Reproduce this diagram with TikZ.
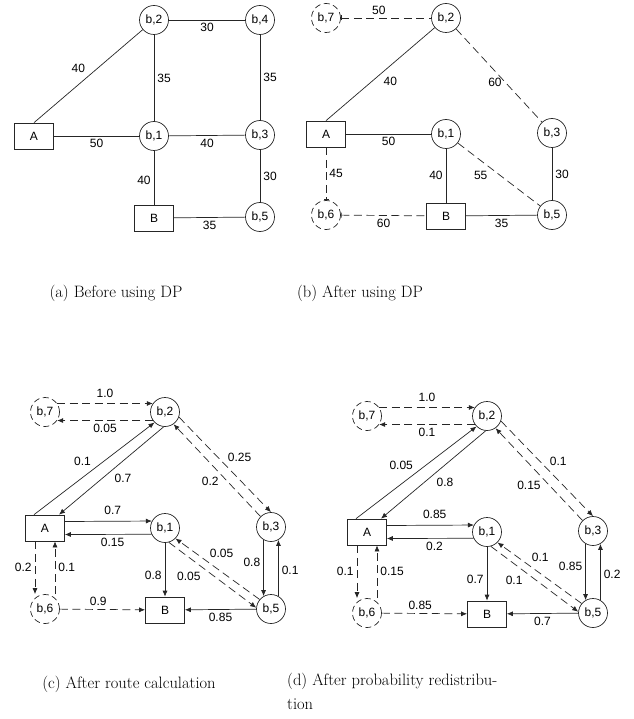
\documentclass[tikz,border=0pt]{standalone}
\usepackage{fontspec}
\newfontfamily\diagfont{Liberation Sans}
\usetikzlibrary{arrows.meta}

\begin{document}
\begin{tikzpicture}[x=1pt, y=-1pt,
    font=\diagfont\fontsize{12}{14}\selectfont, inner sep=3pt,
    bnode/.style={circle, draw=black!85, line width=0.7pt, minimum size=29pt, inner sep=0pt},
    vnode/.style={bnode, dash pattern=on 6pt off 3.5pt},
    ep/.style={rectangle, draw=black!85, line width=0.7pt, minimum width=39pt, minimum height=26pt, inner sep=0pt},
    link/.style={line width=0.7pt, draw=black!85},
    dlink/.style={link, dash pattern=on 8pt off 4.5pt},
    flow/.style={link, -{Latex[length=6pt, width=5pt]}},
    dflow/.style={dlink, -{Latex[length=6pt, width=5pt]}},
    subcap/.style={font=\rmfamily\fontsize{16.5}{24}\selectfont, inner sep=0pt}
]
\useasboundingbox (0,0) rectangle (633,719);

% (a) before using DP
\begin{scope}[shift={(34,20)}]
  \node[ep] (aA) at (0,116) {A};
  \node[bnode] (a2) at (120,0) {b,2};
  \node[bnode] (a4) at (226,0) {b,4};
  \node[bnode] (a1) at (120,116) {b,1};
  \node[bnode] (a3) at (226,115) {b,3};
  \node[ep] (aB) at (120,198) {B};
  \node[bnode] (a5) at (226,197) {b,5};
  \draw[link] (aA.north) -- node[above left] {40} (a2);
  \draw[link] (a2) -- node[below] {30} (a4);
  \draw[link] (a2) -- node[right] {35} (a1);
  \draw[link] (a4) -- node[right] {35} (a3);
  \draw[link] (aA) -- node[below] {50} (a1);
  \draw[link] (a1) -- node[below] {40} (a3);
  \draw[link] (a1) -- node[pos=0.55, left] {40} (aB);
  \draw[link] (a3) -- node[right] {30} (a5);
  \draw[link] (aB) -- node[below] {35} (a5);
\end{scope}

% (b) after using DP
\begin{scope}[shift={(326,18)}]
  \node[vnode] (b7) at (0,0) {b,7};
  \node[bnode] (b2) at (120,0) {b,2};
  \node[ep] (bA) at (0,116) {A};
  \node[bnode] (b1) at (120,116) {b,1};
  \node[bnode] (b3) at (226,115) {b,3};
  \node[vnode] (b6) at (0,197) {b,6};
  \node[ep] (bB) at (120,198) {B};
  \node[bnode] (b5) at (226,197) {b,5};
  \draw[dlink, {Bar[width=5pt]}-] (b7) -- node[pos=0.42, above] {50} (b2);
  \draw[link] (bA.north) -- node[below right] {40} (b2);
  \draw[dlink] (b2) -- node[pos=0.57, left] {60} (b3);
  \draw[link] (bA) -- node[below] {50} (b1);
  \draw[link] (b1) -- node[left] {40} (bB);
  \draw[dlink] (b1) -- node[pos=0.4, below left] {55} (b5);
  \draw[link] (b3) -- node[right] {30} (b5);
  \draw[dlink, -{Bar[width=5pt]}] (bA) -- node[right] {45} (b6);
  \draw[dlink, {Bar[width=5pt]}-] (b6) -- node[below] {60} (bB);
  \draw[link] (bB) -- node[below] {35} (b5);
\end{scope}

% (c) after route calculation
\begin{scope}[shift={(45,412)}]
  \node[vnode] (c7) at (0,0) {b,7};
  \node[bnode] (c2) at (120,0) {b,2};
  \node[ep] (cA) at (0,116) {A};
  \node[bnode] (c1) at (120,116) {b,1};
  \node[bnode] (c3) at (226,115) {b,3};
  \node[vnode] (c6) at (0,197) {b,6};
  \node[ep] (cB) at (120,198) {B};
  \node[bnode] (c5) at (226,197) {b,5};
  \draw[dflow] (c7.35) -- node[above=3pt] {1.0} (c2.145);
  \draw[dflow] (c2.215) -- node[below] {0.05} (c7.325);
  \draw[flow] ([xshift=-11pt]cA.north) -- node[above left] {0.1} (c2.225);
  \draw[flow] (c2.265) -- node[below right] {0.7} ([xshift=14pt]cA.north);
  \draw[dflow] (c2.340) -- node[pos=0.42, right=7pt] {0.25} (c3.90);
  \draw[dflow] (c3.135) -- node[pos=0.385, left=5pt] {0.2} (c2.305);
  \draw[flow] ([yshift=6.5pt]cA.east) -- node[pos=0.55, above=3pt] {0.7} (c1.152);
  \draw[flow] (c1.205) -- node[pos=0.45, below] {0.15} ([yshift=-6.5pt]cA.east);
  \draw[dflow] ([xshift=-10pt]cA.south) -- node[left] {0.2} ([xshift=-10pt]c6.north);
  \draw[dflow] ([xshift=10pt]c6.north) -- node[right] {0.1} ([xshift=10pt]cA.south);
  \draw[flow] (c1) -- node[pos=0.6, left] {0.8} (cB);
  \draw[dflow] (c1.285) -- node[pos=0.4, below left] {0.05} (c5.175);
  \draw[dflow] (c5.140) -- node[pos=0.63, above right] {0.05} (c1.315);
  \draw[flow] (c3.240) -- node[pos=0.4, left] {0.8} (c5.120);
  \draw[flow] (c5.60) -- node[pos=0.45, right] {0.1} (c3.300);
  \draw[dflow] (c6) -- node[pos=0.45, above] {0.9} (cB);
  \draw[flow] (c5) -- node[below] {0.85} (cB);
\end{scope}

% (d) after probability redistribution
\begin{scope}[shift={(367,416)}]
  \node[vnode] (d7) at (0,0) {b,7};
  \node[bnode] (d2) at (120,0) {b,2};
  \node[ep] (dA) at (0,116) {A};
  \node[bnode] (d1) at (120,116) {b,1};
  \node[bnode] (d3) at (226,115) {b,3};
  \node[vnode] (d6) at (0,197) {b,6};
  \node[ep] (dB) at (120,198) {B};
  \node[bnode] (d5) at (226,197) {b,5};
  \draw[dflow] (d7.35) -- node[above=3pt] {1.0} (d2.145);
  \draw[dflow] (d2.215) -- node[below] {0.1} (d7.325);
  \draw[flow] ([xshift=-11pt]dA.north) -- node[above left] {0.05} (d2.225);
  \draw[flow] (d2.265) -- node[below right] {0.8} ([xshift=14pt]dA.north);
  \draw[dflow] (d2.340) -- node[pos=0.42, right=7pt] {0.1} (d3.90);
  \draw[dflow] (d3.135) -- node[pos=0.385, left=5pt] {0.15} (d2.305);
  \draw[flow] ([yshift=6.5pt]dA.east) -- node[pos=0.55, above=3pt] {0.85} (d1.152);
  \draw[flow] (d1.205) -- node[pos=0.45, below] {0.2} ([yshift=-6.5pt]dA.east);
  \draw[dflow] ([xshift=-10pt]dA.south) -- node[left] {0.1} ([xshift=-10pt]d6.north);
  \draw[dflow] ([xshift=10pt]d6.north) -- node[right] {0.15} ([xshift=10pt]dA.south);
  \draw[flow] (d1) -- node[pos=0.6, left] {0.7} (dB);
  \draw[dflow] (d1.285) -- node[pos=0.4, below left] {0.1} (d5.175);
  \draw[dflow] (d5.140) -- node[pos=0.63, above right] {0.1} (d1.315);
  \draw[flow] (d3.240) -- node[pos=0.4, left] {0.85} (d5.120);
  \draw[flow] (d5.60) -- node[pos=0.45, right] {0.2} (d3.300);
  \draw[dflow] (d6) -- node[pos=0.45, above] {0.85} (dB);
  \draw[flow] (d5) -- node[below] {0.7} (dB);
\end{scope}

% captions
\node[subcap, anchor=base] (capa) at (116,297) {(a) Before using DP};
\node[subcap, anchor=base] (capb) at (360,297) {(b) After using DP};
\node[subcap, anchor=base] (capc) at (129,688) {(c) After route calculation};
\node[subcap, anchor=north west, align=left] (capd) at (287,673) {(d) After probability redistribu-\\tion};
\end{tikzpicture}
\end{document}
